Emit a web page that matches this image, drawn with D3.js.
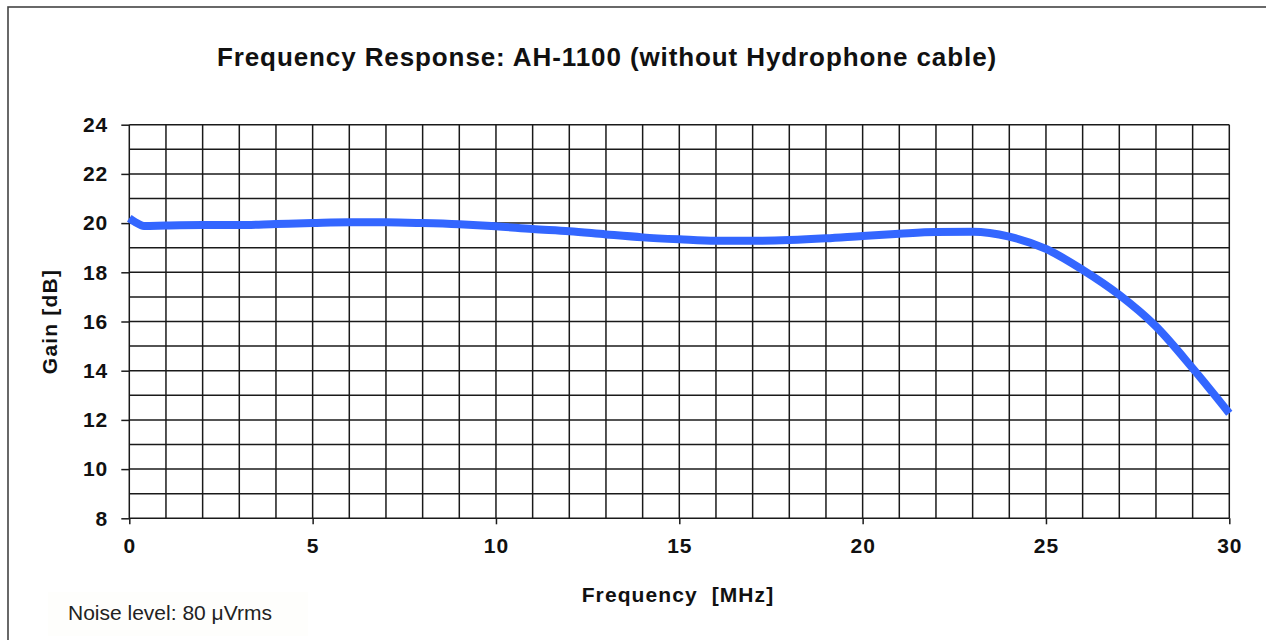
<!DOCTYPE html>
<html><head><meta charset="utf-8">
<script src="https://cdn.jsdelivr.net/npm/d3@7"></script>
<style>body{margin:0;background:#fff;} svg{display:block;}</style>
</head><body>
<svg id="c" width="1266" height="640"></svg>
<script>
const freqMHz = [0, 0.15, 0.4, 1, 2, 3, 4, 5, 6, 7, 8, 9, 10, 11, 12, 13, 14, 15, 16, 17, 18, 19, 20, 21, 22, 23, 24, 25, 26, 27, 28, 29, 30];
const gainDb  = [20.2, 20.05, 19.88, 19.9, 19.92, 19.92, 19.96, 20.0, 20.03, 20.03, 20.0, 19.95, 19.87, 19.76, 19.67, 19.54, 19.42, 19.34, 19.28, 19.28, 19.31, 19.38, 19.48, 19.57, 19.64, 19.65, 19.45, 18.95, 18.1, 17.08, 15.8, 14.1, 12.27];
const xTickLabels = [0, 5, 10, 15, 20, 25, 30];
const yTickLabels = [8, 10, 12, 14, 16, 18, 20, 22, 24];

const svg = d3.select("#c");
const L = 129.3, R = 1229.3, T = 124.7, B = 518.3;
const x = d3.scaleLinear().domain([0, 30]).range([L, R]);
const y = d3.scaleLinear().domain([8, 24]).range([B, T]);

// outer border
svg.append("rect").attr("x", 8).attr("y", 7).attr("width", 1300).attr("height", 700)
  .attr("fill", "none").attr("stroke", "#444").attr("stroke-width", 1.6);

// noise text box background
svg.append("rect").attr("x", 48).attr("y", 592).attr("width", 260).attr("height", 44).attr("fill", "#fefefc");

// grid
const g = svg.append("g").attr("stroke", "#1a1a1a").attr("stroke-width", 1.5);
g.selectAll("line.v").data(d3.range(0, 31)).join("line")
  .attr("x1", d => x(d)).attr("x2", d => x(d)).attr("y1", T).attr("y2", B);
g.selectAll("line.h").data(d3.range(8, 25)).join("line")
  .attr("y1", d => y(d)).attr("y2", d => y(d)).attr("x1", L).attr("x2", R);

// axes
const font = "'Liberation Sans', Arial, sans-serif";
const ya = svg.append("g").attr("transform", `translate(${L},0)`)
  .call(d3.axisLeft(y).tickValues(yTickLabels).tickSize(8).tickPadding(13).tickSizeOuter(0));
const xa = svg.append("g").attr("transform", `translate(0,${B})`)
  .call(d3.axisBottom(x).tickValues(xTickLabels).tickSize(6).tickPadding(14).tickSizeOuter(0));
[ya, xa].forEach(a => {
  a.select(".domain").remove();
  a.selectAll(".tick line").attr("stroke", "#1a1a1a").attr("stroke-width", 1.5);
  a.selectAll(".tick text").attr("fill", "#111").style("font-family", font)
    .style("font-size", "21px").style("font-weight", "bold").style("letter-spacing", "1px");
});

// curve
const line = d3.line().x((d, i) => x(freqMHz[i])).y(d => y(d)).curve(d3.curveMonotoneX);
svg.append("path").datum(gainDb).attr("d", line).attr("fill", "none")
  .attr("stroke", "#3366ff").attr("stroke-width", 8).attr("stroke-linecap", "butt");

// texts
svg.append("text").attr("x", 607).attr("y", 66).attr("text-anchor", "middle")
  .style("font-family", font).style("font-size", "26px").style("font-weight", "bold").attr("fill", "#111")
  .style("letter-spacing", "0.9px")
  .text("Frequency Response: AH-1100 (without Hydrophone cable)");
svg.append("text").attr("x", 678).attr("y", 602).attr("text-anchor", "middle")
  .style("font-family", font).style("font-size", "21px").style("font-weight", "bold").attr("fill", "#111")
  .style("letter-spacing", "1.1px").style("white-space", "pre")
  .text("Frequency  [MHz]");
svg.append("text").attr("transform", `translate(57,${(T + B) / 2}) rotate(-90)`).attr("text-anchor", "middle")
  .style("font-family", font).style("font-size", "21px").style("font-weight", "bold").attr("fill", "#111")
  .style("letter-spacing", "1.2px")
  .text("Gain [dB]");
svg.append("text").attr("x", 68).attr("y", 620)
  .style("font-family", font).style("font-size", "21px").attr("fill", "#222")
  .text("Noise level: 80 \u03BCVrms");
</script>
</body></html>
